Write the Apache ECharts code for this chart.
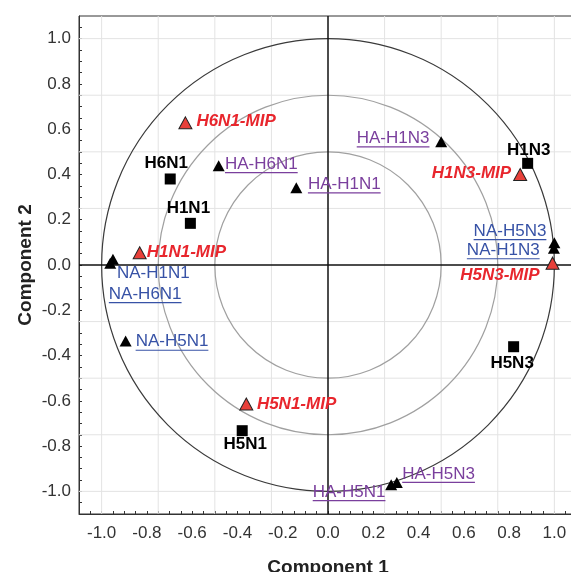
<!DOCTYPE html>
<html><head><meta charset="utf-8">
<script src="https://cdn.jsdelivr.net/npm/echarts@6/dist/echarts.min.js"></script>
<style>html,body{margin:0;padding:0;background:#fff}#c{width:571px;height:572px}</style>
</head><body><div id="c"></div>
<script>
// ---- data ----
const sampleNames = ['H6N1', 'H1N1', 'H1N3', 'H5N3', 'H5N1'];
const sampleX = [-0.697, -0.608, 0.882, 0.820, -0.379];
const sampleY = [0.380, 0.184, 0.449, -0.361, -0.732];

const mipNames = ['H6N1-MIP', 'H1N1-MIP', 'H1N3-MIP', 'H5N3-MIP', 'H5N1-MIP'];
const mipX = [-0.630, -0.832, 0.849, 0.992, -0.361];
const mipY = [0.628, 0.054, 0.400, 0.008, -0.614];

const haNames = ['HA-H6N1', 'HA-H1N1', 'HA-H1N3', 'HA-H5N1', 'HA-H5N3'];
const haX = [-0.483, -0.140, 0.500, 0.279, 0.304];
const haY = [0.438, 0.341, 0.544, -0.971, -0.961];

const naNames = ['NA-H1N1', 'NA-H6N1', 'NA-H5N1', 'NA-H5N3', 'NA-H1N3'];
const naX = [-0.950, -0.962, -0.894, 1.000, 0.998];
const naY = [0.025, 0.008, -0.336, 0.098, 0.074];

const circleRadii = [1.0, 0.75, 0.5];
const gridValues = [-1.0, -0.75, -0.5, -0.25, 0.25, 0.5, 0.75, 1.0];
const zeroValues = [0];
const tickLabels = [-1.0, -0.8, -0.6, -0.4, -0.2, 0.0, 0.2, 0.4, 0.6, 0.8, 1.0];
const axisMin = -1.1, axisMax = 1.1;

// ---- label placement (pixel offsets from the marker) ----
const labelLayout = {
  'H6N1': [-4, -16, 'center'], 'H1N1': [-2, -15, 'center'], 'H1N3': [1, -13, 'center'],
  'H5N3': [-1.5, 16.5, 'center'], 'H5N1': [3, 14, 'center'],
  'H6N1-MIP': [11, -1.5, 'left'], 'H1N1-MIP': [7, 0, 'left'], 'H1N3-MIP': [-9, -1.5, 'right'],
  'H5N3-MIP': [-13, 12, 'right'], 'H5N1-MIP': [10.6, 0, 'left'],
  'HA-H6N1': [6.3, -1.7, 'left'], 'HA-H1N1': [11.6, -3.4, 'left'], 'HA-H1N3': [-11.7, -3.4, 'right'],
  'HA-H5N1': [-5.7, 7.3, 'right'], 'HA-H5N3': [5.4, -8.7, 'left'],
  'NA-H1N1': [4, 14, 'left'], 'NA-H6N1': [-1.4, 31, 'left'], 'NA-H5N1': [10, 0.7, 'left'],
  'NA-H5N3': [-8, -11.7, 'right'], 'NA-H1N3': [-14.3, 2, 'right']
};
const noUnderline = { 'NA-H1N1': true };

const FONT = "'Liberation Sans', Arial, Helvetica, sans-serif";
const labelSize = 17;
const measureCtx = document.createElement('canvas').getContext('2d');
function textWidth(txt, weight, style) {
  measureCtx.font = style + ' ' + weight + ' ' + labelSize + 'px ' + FONT;
  return measureCtx.measureText(txt).width;
}

const tickMarks = [];
for (let i = -21; i <= 21; i++) tickMarks.push(Math.round(i * 5) / 100);

function zip(xs, ys) { return xs.map((x, i) => [x, ys[i]]); }

function labelSeries(names, xs, ys, color, weight, style, underline) {
  return {
    type: 'custom', z: 10, silent: true,
    data: zip(xs, ys),
    renderItem: function (params, api) {
      const name = names[params.dataIndex];
      const lay = labelLayout[name];
      const p = api.coord([api.value(0), api.value(1)]);
      const x = p[0] + lay[0], y = p[1] + lay[1];
      const children = [{
        type: 'text', x: x, y: y,
        style: { text: name, fill: color, fontSize: labelSize, fontFamily: FONT, fontWeight: weight,
                 fontStyle: style, align: lay[2], verticalAlign: 'middle' }
      }];
      if (underline && !noUnderline[name]) {
        const w = textWidth(name, weight, style);
        let x0 = x;
        if (lay[2] === 'right') x0 = x - w; else if (lay[2] === 'center') x0 = x - w / 2;
        children.push({ type: 'line', shape: { x1: x0, y1: y + 8.5, x2: x0 + w, y2: y + 8.5 },
          style: { stroke: color, lineWidth: 1.2 } });
      }
      return { type: 'group', children: children };
    }
  };
}

function vLines(values, color, width, z) {
  return { type: 'custom', z: z, silent: true, data: values.map(v => [v, 0]),
    renderItem: function (params, api) {
      const a = api.coord([api.value(0), axisMin]), b = api.coord([api.value(0), axisMax]);
      return { type: 'line', shape: { x1: a[0], y1: a[1], x2: b[0], y2: b[1] }, style: { stroke: color, lineWidth: width } };
    } };
}
function hLines(values, color, width, z) {
  return { type: 'custom', z: z, silent: true, data: values.map(v => [0, v]),
    renderItem: function (params, api) {
      const a = api.coord([axisMin, api.value(1)]), b = api.coord([axisMax, api.value(1)]);
      return { type: 'line', shape: { x1: a[0], y1: a[1], x2: b[0], y2: b[1] }, style: { stroke: color, lineWidth: width } };
    } };
}

const circleColors = ['#3a3a3a', '#a0a0a0', '#a0a0a0'];

function axisCommon(name, gap, margin) {
  return {
    type: 'value', min: axisMin, max: axisMax,
    axisLine: { show: true, onZero: false, lineStyle: { color: '#333', width: 1 } },
    splitLine: { show: false },
    axisTick: { show: true, inside: true, length: 3, customValues: tickMarks, lineStyle: { color: '#333' } },
    axisLabel: { customValues: tickLabels, formatter: v => Number(v).toFixed(1), fontSize: 17,
                 color: '#333', fontFamily: FONT, margin: margin, hideOverlap: false },
    name: name, nameLocation: 'middle', nameGap: gap, nameMoveOverlap: false,
    nameTextStyle: { fontSize: 19, fontWeight: 'bold', color: '#222', fontFamily: FONT }
  };
}

const chart = echarts.init(document.getElementById('c'), null, { renderer: 'canvas' });
chart.setOption({
  animation: false,
  backgroundColor: '#fff',
  grid: { left: 79, top: 16, width: 498, height: 498, show: true, borderColor: '#333', borderWidth: 1,
          containLabel: false, outerBoundsMode: 'none' },
  xAxis: axisCommon('Component 1', 44, 11),
  yAxis: axisCommon('Component 2', 44, 8),
  series: [
    vLines(gridValues, '#e3e3e3', 1, 1),
    hLines(gridValues, '#e3e3e3', 1, 1),
    { type: 'custom', z: 2, silent: true, data: circleRadii.map(r => [0, 0, r]),
      renderItem: function (params, api) {
        const c = api.coord([api.value(0), api.value(1)]);
        const r = api.size([api.value(2), 0])[0];
        return { type: 'circle', shape: { cx: c[0], cy: c[1], r: r },
                 style: { fill: null, stroke: circleColors[params.dataIndex], lineWidth: 1.2 } };
      } },
    vLines(zeroValues, '#111', 1.5, 3),
    hLines(zeroValues, '#111', 1.5, 3),
    { type: 'scatter', z: 5, symbol: 'rect', symbolSize: 11, itemStyle: { color: '#000', opacity: 1 }, data: zip(sampleX, sampleY) },
    { type: 'scatter', z: 5, symbol: 'triangle', symbolSize: [12, 11], itemStyle: { color: '#000', opacity: 1 }, data: zip(haX, haY) },
    { type: 'scatter', z: 5, symbol: 'triangle', symbolSize: [12, 11], itemStyle: { color: '#000', opacity: 1 }, data: zip(naX, naY) },
    { type: 'scatter', z: 6, symbol: 'triangle', symbolSize: [13, 12],
      itemStyle: { color: '#e8403a', borderColor: '#222', borderWidth: 1, opacity: 1 }, data: zip(mipX, mipY) },
    labelSeries(sampleNames, sampleX, sampleY, '#000', 'bold', 'normal', false),
    labelSeries(mipNames, mipX, mipY, '#e8262d', 'bold', 'italic', false),
    labelSeries(haNames, haX, haY, '#7a3f9d', 'normal', 'normal', true),
    labelSeries(naNames, naX, naY, '#3752a6', 'normal', 'normal', true)
  ]
});
</script>
</body></html>
